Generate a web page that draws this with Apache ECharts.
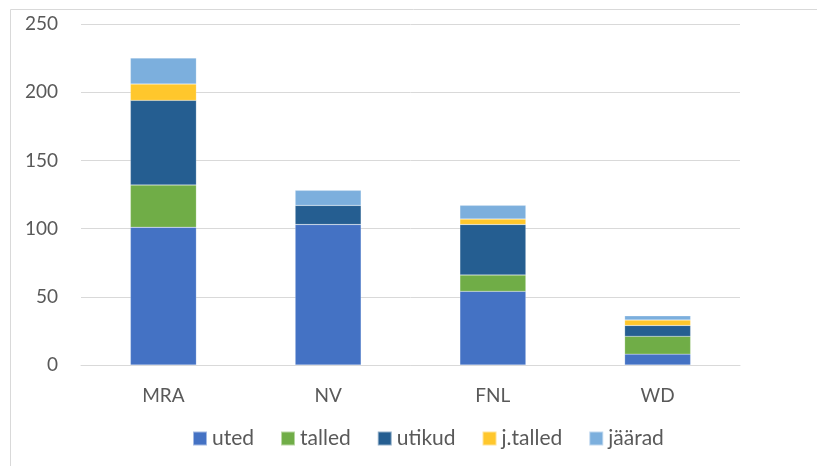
<!DOCTYPE html>
<html>
<head>
<meta charset="utf-8">
<script src="https://cdn.jsdelivr.net/npm/echarts@6/dist/echarts.min.js"></script>
<style>
  html, body { margin: 0; padding: 0; background: #fff; }
  #chart { width: 817px; height: 466px; }
</style>
</head>
<body>
<div id="chart"></div>
<script>
// kategooriad ja väärtused (loetud pildilt)
var categories = ['MRA', 'NV', 'FNL', 'WD'];
var uted = [101, 103, 54, 8];
var talled = [31, 0, 12, 13];
var utikud = [62, 14, 37, 8];
var jtalled = [12, 0, 4, 4];
var jaarad = [19, 11, 10, 3];
var seriesNames = ['uted', 'talled', 'utikud', 'j.talled', 'jäärad'];
var colors = ['#4472C4', '#70AD47', '#255E91', '#FFC72C', '#7CAFDD'];

var allData = [uted, talled, utikud, jtalled, jaarad];
var font = 'Lato, "Open Sans", sans-serif';

var series = seriesNames.map(function (name, i) {
    return {
        name: name,
        type: 'bar',
        stack: 'total',
        barCategoryGap: '60%',
        data: allData[i],
        itemStyle: {
            color: colors[i],
            borderColor: 'rgba(255,255,255,0.5)',
            borderWidth: 0.4
        }
    };
});

var chart = echarts.init(document.getElementById('chart'));
chart.setOption({
    animation: false,
    color: colors,
    grid: { left: 81, right: 77, top: 24, bottom: 101 },
    graphic: [
        {
            type: 'polyline',
            shape: { points: [[10.5, 466], [10.5, 9.5], [817, 9.5]] },
            style: { stroke: '#d9d9d9', lineWidth: 1, fill: null }
        }
    ],
    legend: {
        data: seriesNames,
        left: 187,
        top: 423,
        itemWidth: 14,
        itemHeight: 14,
        itemGap: 26,
        icon: 'rect',
        textStyle: { fontFamily: font, fontSize: 21, color: '#595959', padding: [0, 0, 0, 0] }
    },
    xAxis: {
        type: 'category',
        data: categories,
        axisLine: { lineStyle: { color: '#d9d9d9' } },
        axisTick: { show: false },
        axisLabel: { margin: 21, fontFamily: font, fontSize: 19, color: '#595959' }
    },
    yAxis: {
        type: 'value',
        min: 0,
        max: 250,
        interval: 50,
        axisLine: { show: false },
        axisTick: { show: false },
        splitLine: { lineStyle: { color: '#d9d9d9' } },
        axisLabel: { margin: 23, fontFamily: font, fontSize: 19, color: '#595959' }
    },
    series: series
});
</script>
</body>
</html>
